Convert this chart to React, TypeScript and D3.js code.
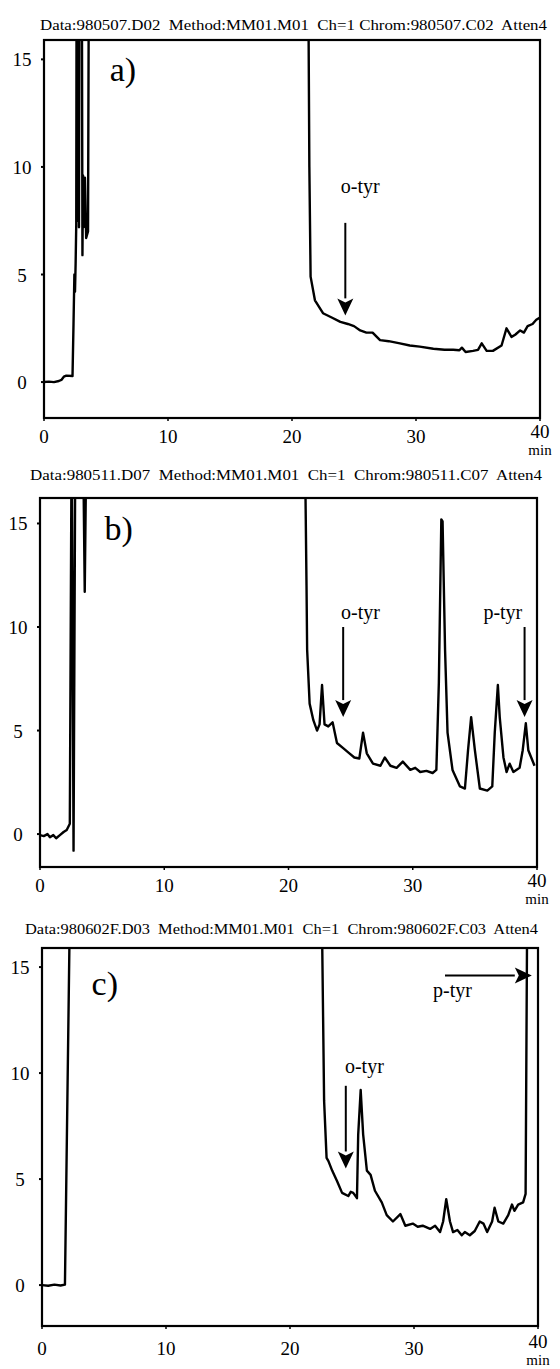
import * as d3 from "d3";
import React, { useEffect, useRef } from "react";

// retention time (min) / detector signal for each chromatogram
const timeA = [0, 0.4, 0.8, 1.2, 1.4, 1.6, 1.8, 2.3, 2.38, 2.45, 2.5, 2.55, 2.6, 2.63, 2.66, 2.7, 2.74, 2.78, 2.82, 2.86, 3.05, 3.1, 3.15, 3.2, 3.3, 3.4, 3.55, 3.62, 21.3, 21.4, 21.5, 21.85, 22.5, 23.2, 23.9, 24.5, 25.0, 25.5, 26.0, 26.5, 27.1, 27.8, 28.7, 29.5, 30.3, 31.4, 32.3, 33.0, 33.5, 33.7, 34.0, 34.6, 35.0, 35.3, 35.7, 36.2, 36.9, 37.3, 37.7, 38.0, 38.4, 38.7, 39.0, 39.4, 39.7, 40];
const signalA = [0, 0.02, 0, 0.05, 0.1, 0.25, 0.3, 0.28, 2.7, 5.0, 4.2, 5.5, 7.3, 20, 7.5, 20, 8, 20, 7.2, 20, 20, 5.9, 9.6, 7.2, 9.5, 6.7, 7.0, 20, 20, 10, 4.9, 3.8, 3.2, 3.0, 2.8, 2.7, 2.6, 2.4, 2.3, 2.3, 1.95, 1.9, 1.8, 1.7, 1.65, 1.55, 1.5, 1.5, 1.48, 1.6, 1.4, 1.45, 1.5, 1.8, 1.45, 1.45, 1.7, 2.5, 2.1, 2.2, 2.4, 2.3, 2.6, 2.7, 2.9, 3.0];

const timeB = [0, 0.3, 0.6, 0.8, 1.07, 1.3, 1.6, 1.9, 2.15, 2.4, 2.55, 2.7, 2.85, 3.45, 3.6, 3.75, 21.3, 21.45, 21.5, 21.7, 22.0, 22.3, 22.5, 22.7, 22.9, 23.2, 23.55, 23.9, 24.4, 24.9, 25.3, 25.7, 26.0, 26.3, 26.8, 27.4, 27.75, 28.2, 28.7, 29.2, 29.8, 30.2, 30.6, 31.1, 31.6, 31.9, 32.1, 32.3, 32.4, 32.6, 32.8, 33.2, 33.8, 34.2, 34.45, 34.7, 35.0, 35.4, 36.0, 36.4, 36.6, 36.85, 37.0, 37.3, 37.55, 37.8, 38.1, 38.6, 38.85, 39.1, 39.3, 39.6, 39.8];
const signalB = [-0.05, -0.1, 0, -0.15, -0.05, -0.2, -0.05, 0.1, 0.2, 0.5, 20, -0.8, 20, 20, 11.7, 20, 20, 12, 8.9, 6.3, 5.5, 5.0, 5.3, 7.2, 5.3, 5.2, 5.4, 4.4, 4.15, 3.9, 3.7, 3.65, 4.9, 3.9, 3.4, 3.3, 3.7, 3.3, 3.2, 3.5, 3.1, 3.2, 3.0, 3.05, 2.95, 3.1, 7.3, 15.2, 15.1, 8.9, 4.9, 3.1, 2.3, 2.2, 4.05, 5.65, 4.05, 2.2, 2.1, 2.3, 4.9, 7.2, 5.65, 3.7, 3.0, 3.4, 3.0, 3.2, 4.05, 5.35, 4.05, 3.6, 3.3];

const timeC = [0, 0.5, 1.0, 1.5, 1.85, 2.3, 22.55, 22.6, 22.75, 22.95, 23.1, 23.4, 23.8, 24.2, 24.7, 24.9, 25.1, 25.4, 25.5, 25.7, 25.9, 26.2, 26.5, 26.85, 27.4, 27.8, 28.3, 28.9, 29.3, 29.9, 30.3, 30.7, 31.3, 31.7, 32.1, 32.35, 32.6, 32.9, 33.15, 33.5, 33.85, 34.1, 34.5, 34.9, 35.3, 35.6, 35.9, 36.3, 36.5, 36.8, 37.2, 37.6, 37.9, 38.1, 38.4, 38.8, 39.0, 39.15];
const signalC = [0, -0.03, 0.02, -0.02, 0.02, 20, 20, 16, 8.7, 6.0, 5.85, 5.4, 4.9, 4.35, 4.2, 4.4, 4.35, 4.1, 7.1, 9.2, 7.1, 5.4, 5.2, 4.45, 3.9, 3.3, 3.0, 3.35, 2.8, 2.9, 2.75, 2.8, 2.65, 2.8, 2.5, 3.0, 4.05, 3.0, 2.5, 2.6, 2.35, 2.5, 2.35, 2.55, 3.0, 2.9, 2.5, 3.0, 3.65, 3.0, 2.9, 3.3, 3.8, 3.5, 3.8, 3.9, 4.3, 20];

const headers = [
  "Data:980507.D02  Method:MM01.M01  Ch=1 Chrom:980507.C02  Atten4",
  "Data:980511.D07  Method:MM01.M01  Ch=1  Chrom:980511.C07  Atten4",
  "Data:980602F.D03  Method:MM01.M01  Ch=1  Chrom:980602F.C03  Atten4",
];
const panelNames = ["a)", "b)", "c)"];
const xTicks = [0, 10, 20, 30, 40];
const yTicks = [0, 5, 10, 15];

// arrows: label text, label position, arrow start and end (min, signal)
const arrowsA = [{ label: "o-tyr", lx: 25.5, ly: 8.8, x1: 24.3, y1: 7.4, x2: 24.3, y2: 3.1 }];
const arrowsB = [
  { label: "o-tyr", lx: 25.8, ly: 10.4, x1: 24.4, y1: 10.0, x2: 24.4, y2: 5.65 },
  { label: "p-tyr", lx: 37.25, ly: 10.4, x1: 39.0, y1: 10.0, x2: 39.0, y2: 5.65 },
];
const arrowsC = [
  { label: "o-tyr", lx: 26.0, ly: 10.0, x1: 24.5, y1: 9.4, x2: 24.5, y2: 5.5 },
  { label: "p-tyr", lx: 33.1, ly: 13.6, x1: 32.5, y1: 14.6, x2: 39.5, y2: 14.6 },
];

// pixel layout of each panel
const panels = [
  { time: timeA, signal: signalA, arrows: arrowsA, left: 44, right: 540, top: 40, bottom: 418, yMin: -1.67, yMax: 15.9, hx0: 40, hx1: 547, hy: 30, numOff: 25, fortyOff: 20, minOff: 37, nameX: 5.3, nameY: 14.0 },
  { time: timeB, signal: signalB, arrows: arrowsB, left: 40, right: 537, top: 498, bottom: 867, yMin: -1.59, yMax: 16.23, hx0: 30, hx1: 542, hy: 480, numOff: 25, fortyOff: 20, minOff: 37, nameX: 5.2, nameY: 14.2 },
  { time: timeC, signal: signalC, arrows: arrowsC, left: 42, right: 538, top: 948, bottom: 1326, yMin: -1.93, yMax: 15.9, hx0: 25, hx1: 538, hy: 934, numOff: 29, fortyOff: 22, minOff: 39, nameX: 4.0, nameY: 13.7 },
];

const serif = "'Liberation Serif', 'Times New Roman', serif";

const Chromatograms = () => {
  const svgRef = useRef<SVGSVGElement>(null);

  useEffect(() => {
    const svg = d3.select(svgRef.current);
    svg.selectAll("*").remove();

    panels.forEach((p, i) => {
      const x = d3.scaleLinear().domain([0, 40]).range([p.left, p.right]);
      const y = d3.scaleLinear().domain([p.yMin, p.yMax]).range([p.bottom, p.top]);
      const g = svg.append("g");

      // header line
      g.append("text")
        .attr("x", p.hx0)
        .attr("y", p.hy)
        .attr("font-family", serif)
        .attr("font-size", 14)
        .attr("textLength", p.hx1 - p.hx0)
        .attr("lengthAdjust", "spacingAndGlyphs")
        .style("white-space", "pre")
        .text(headers[i]);

      // clip for the trace
      const clipId = `clip-${i}`;
      svg
        .append("clipPath")
        .attr("id", clipId)
        .append("rect")
        .attr("x", p.left)
        .attr("y", p.top)
        .attr("width", p.right - p.left)
        .attr("height", p.bottom - p.top);

      const pts = p.time.map((t, k) => [t, p.signal[k]] as [number, number]);
      const line = d3
        .line<[number, number]>()
        .x((d) => x(d[0]))
        .y((d) => y(d[1]));

      g.append("path")
        .attr("d", line(pts))
        .attr("clip-path", `url(#${clipId})`)
        .attr("fill", "none")
        .attr("stroke", "#000")
        .attr("stroke-width", 2.4)
        .attr("stroke-linejoin", "round");

      // frame
      g.append("rect")
        .attr("x", p.left)
        .attr("y", p.top)
        .attr("width", p.right - p.left)
        .attr("height", p.bottom - p.top)
        .attr("fill", "none")
        .attr("stroke", "#000")
        .attr("stroke-width", 2.2);

      // y ticks and labels
      yTicks.forEach((v) => {
        g.append("line")
          .attr("x1", p.left - 3)
          .attr("x2", p.left)
          .attr("y1", y(v))
          .attr("y2", y(v))
          .attr("stroke", "#000")
          .attr("stroke-width", 2);
        g.append("text")
          .attr("x", p.left - 22)
          .attr("y", y(v) + 7)
          .attr("text-anchor", "middle")
          .attr("font-family", serif)
          .attr("font-size", 19)
          .text(v);
      });

      // x ticks and labels
      xTicks.forEach((t) => {
        g.append("line")
          .attr("x1", x(t))
          .attr("x2", x(t))
          .attr("y1", p.bottom)
          .attr("y2", p.bottom + 3)
          .attr("stroke", "#000")
          .attr("stroke-width", 1.5);
        g.append("text")
          .attr("x", x(t))
          .attr("y", p.bottom + (t === 40 ? p.fortyOff : p.numOff))
          .attr("text-anchor", "middle")
          .attr("font-family", serif)
          .attr("font-size", 19)
          .text(t);
      });
      g.append("text")
        .attr("x", x(40))
        .attr("y", p.bottom + p.minOff)
        .attr("text-anchor", "middle")
        .attr("font-family", serif)
        .attr("font-size", 15)
        .text("min");

      // panel name
      g.append("text")
        .attr("x", x(p.nameX))
        .attr("y", y(p.nameY))
        .attr("font-family", serif)
        .attr("font-size", 34)
        .text(panelNames[i]);

      // arrows
      p.arrows.forEach((a) => {
        g.append("text")
          .attr("x", x(a.lx))
          .attr("y", y(a.ly))
          .attr("text-anchor", "middle")
          .attr("font-family", serif)
          .attr("font-size", 20)
          .text(a.label);

        const X1 = x(a.x1), Y1 = y(a.y1), X2 = x(a.x2), Y2 = y(a.y2);
        const ang = Math.atan2(Y2 - Y1, X2 - X1);
        const hl = 17, hw = 8;
        const bx = X2 - hl * Math.cos(ang), by = Y2 - hl * Math.sin(ang);
        g.append("line")
          .attr("x1", X1)
          .attr("y1", Y1)
          .attr("x2", bx)
          .attr("y2", by)
          .attr("stroke", "#000")
          .attr("stroke-width", 2);
        g.append("path")
          .attr(
            "d",
            `M${X2},${Y2}L${bx - hw * Math.sin(ang)},${by + hw * Math.cos(ang)}L${bx + 4 * Math.cos(ang)},${by + 4 * Math.sin(ang)}L${bx + hw * Math.sin(ang)},${by - hw * Math.cos(ang)}Z`
          )
          .attr("fill", "#000");
      });
    });
  }, []);

  return (
    <svg
      ref={svgRef}
      width={560}
      height={1369}
      style={{ position: "absolute", left: 0, top: 0, background: "#fff" }}
    ></svg>
  );
};

export default function App() {
  return <Chromatograms />;
}
